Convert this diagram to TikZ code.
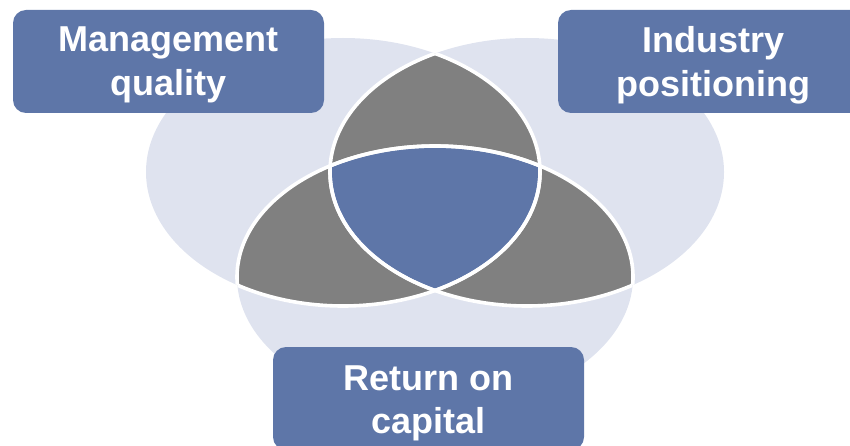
\documentclass[tikz,border=0pt]{standalone}
\usepackage{fontspec}
\setmainfont{Liberation Sans}
\definecolor{venlight}{RGB}{223,227,239}
\definecolor{vengray}{RGB}{128,128,128}
\definecolor{venblue}{RGB}{94,118,168}
\begin{document}
\begin{tikzpicture}[x=1pt,y=-1pt,
  labelbox/.style={fill=venblue, draw=none, rounded corners=13pt, minimum width=311pt, minimum height=103pt, inner sep=0pt},
  labeltext/.style={text=white, font=\bfseries\fontsize{36}{44}\selectfont, align=center, inner sep=0pt, anchor=north},
  ring/.style={draw=white, line width=3.6pt}]
\useasboundingbox (0,0) rectangle (850,446);
\clip (0,0) rectangle (850,446);
\def\ellL{(343,172) ellipse [x radius=197, y radius=134]}
\def\ellR{(527,172) ellipse [x radius=197, y radius=134]}
\def\ellB{(435,277) ellipse [x radius=198, y radius=131]}
% light circles
\fill[venlight] \ellL;
\fill[venlight] \ellR;
\fill[venlight] \ellB;
% pairwise overlaps
\begin{scope}\clip \ellL; \fill[vengray] \ellR; \end{scope}
\begin{scope}\clip \ellL; \fill[vengray] \ellB; \end{scope}
\begin{scope}\clip \ellR; \fill[vengray] \ellB; \end{scope}
% centre
\begin{scope}\clip \ellL; \clip \ellR; \fill[venblue] \ellB; \end{scope}
% white outlines of overlaps
\begin{scope}\clip \ellR; \draw[ring] \ellL; \end{scope}
\begin{scope}\clip \ellB; \draw[ring] \ellL; \end{scope}
\begin{scope}\clip \ellL; \draw[ring] \ellR; \end{scope}
\begin{scope}\clip \ellB; \draw[ring] \ellR; \end{scope}
\begin{scope}\clip \ellL; \draw[ring] \ellB; \end{scope}
\begin{scope}\clip \ellR; \draw[ring] \ellB; \end{scope}
% label boxes
\node[labelbox] (mgmt) at (168.5,61.5) {};
\node[labelbox] (indus) at (713.5,61.5) {};
\node[labelbox] (roc) at (428.5,398.5) {};
\node[labeltext] (mgmtT) at (168.5,26.7) {Management\\quality};
\node[labeltext] (indusT) at (713.5,26.7) {Industry\\positioning};
\node[labeltext, font=\bfseries\fontsize{36}{43}\selectfont] (rocT) at (428.5,366) {Return on\\capital};
\end{tikzpicture}
\end{document}
